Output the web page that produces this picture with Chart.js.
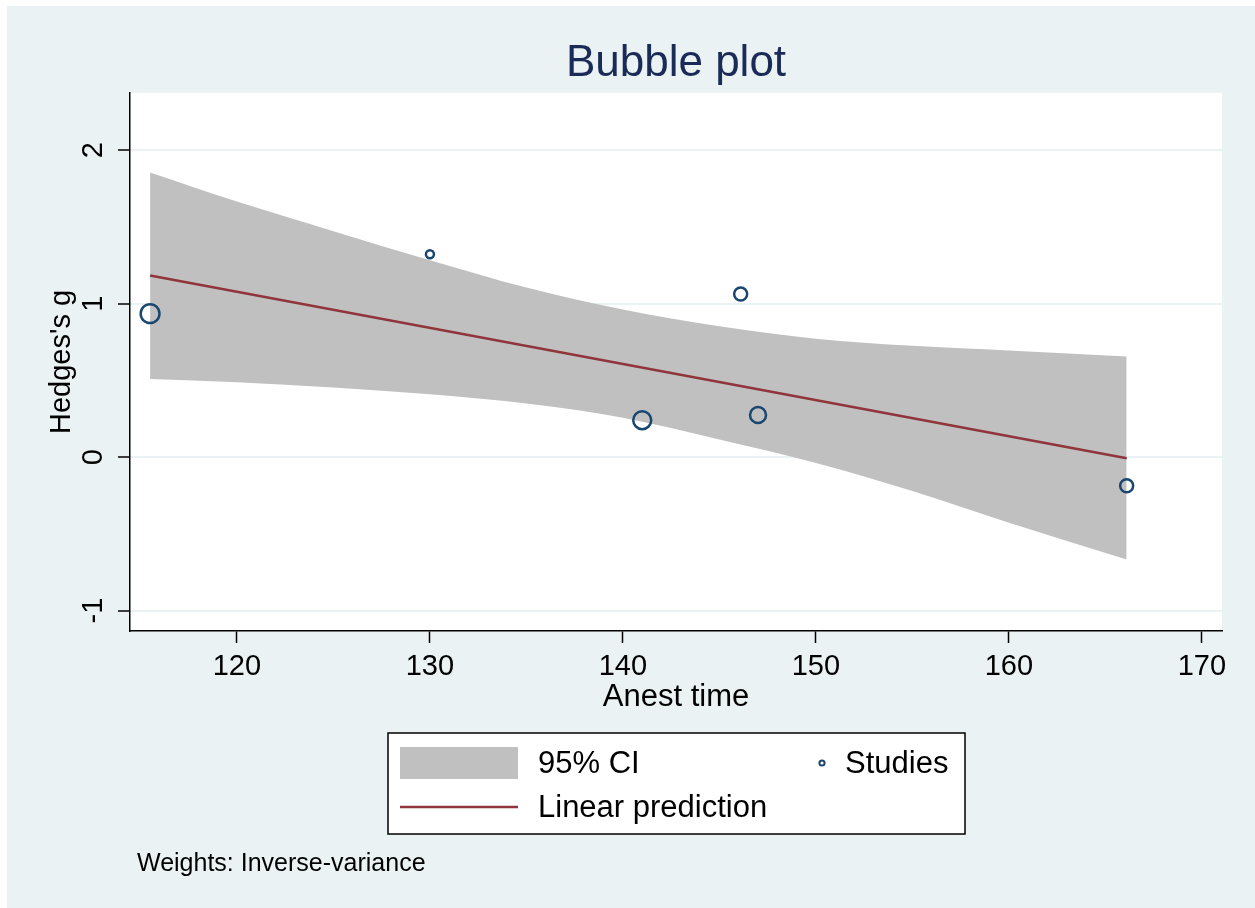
<!DOCTYPE html>
<html>
<head>
<meta charset="utf-8">
<title>Bubble plot</title>
<script src="https://cdn.jsdelivr.net/npm/chart.js@4.4.1/dist/chart.umd.min.js"></script>
<style>
  html, body { margin: 0; padding: 0; background: #fff; }
  #wrap { position: relative; width: 1255px; height: 908px; }
</style>
</head>
<body>
<div id="wrap"><canvas id="grafico" width="1255" height="908"></canvas></div>
<script>
/* studies (bubbles) */
const anestTime = [115.5, 130.0, 141.0, 146.1, 147.0, 166.1];
const hedgesG   = [0.935, 1.322, 0.241, 1.063, 0.274, -0.187];
const weightR   = [9.4, 4, 9, 6.5, 8, 6.5];

/* linear prediction */
const predX = [115.5, 166.1];
const predY = [1.183, -0.008];

/* 95% CI band */
const ciX     = [115.5, 120, 125, 130, 135, 140, 145, 150, 155, 160, 166.1];
const ciUpper = [1.855, 1.665, 1.472, 1.283, 1.105, 0.962, 0.852, 0.772, 0.725, 0.695, 0.655];
const ciLower = [0.509, 0.488, 0.454, 0.41, 0.35, 0.257, 0.115, -0.038, -0.221, -0.427, -0.667];

const xTicks = [120, 130, 140, 150, 160, 170];
const yTicks = [-1, 0, 1, 2];

const FONT = "'Liberation Sans', Arial, Helvetica, sans-serif";
const NAVY = "#1A476F";
const MAROON = "#90353B";
const GRAY = "#C0C0C0";
const BG = "#EAF2F3";

Chart.defaults.font.family = FONT;
Chart.defaults.color = "#000";

/* fundo estilo Stata */
const fundo = {
  id: "fundo",
  beforeDraw(chart) {
    const { ctx, chartArea: a } = chart;
    ctx.save();
    ctx.fillStyle = "#fff";
    ctx.fillRect(0, 0, chart.width, chart.height);
    ctx.fillStyle = BG;
    ctx.fillRect(7, 6, chart.width - 7, chart.height - 6);
    ctx.fillStyle = "#fff";
    ctx.fillRect(a.left, a.top, a.right - a.left, a.bottom - a.top);
    ctx.restore();
  }
};

/* legenda + nota */
const legenda = {
  id: "legenda",
  afterDraw(chart) {
    const ctx = chart.ctx;
    const ds = chart.data.datasets;
    ctx.save();
    ctx.fillStyle = "#fff";
    ctx.fillRect(388, 733, 577, 101);
    ctx.strokeStyle = "#000";
    ctx.lineWidth = 1.5;
    ctx.strokeRect(388, 733, 577, 101);

    ctx.font = "31px " + FONT;
    ctx.textBaseline = "middle";
    ctx.textAlign = "left";

    // 95% CI
    ctx.fillStyle = GRAY;
    ctx.fillRect(400, 747, 118, 32);
    ctx.fillStyle = "#000";
    ctx.fillText(ds[2].label, 538, 764);

    // Studies
    ctx.beginPath();
    ctx.arc(822, 763, 2.6, 0, Math.PI * 2);
    ctx.strokeStyle = NAVY;
    ctx.lineWidth = 2;
    ctx.stroke();
    ctx.fillText(ds[0].label, 845, 764);

    // Linear prediction
    ctx.beginPath();
    ctx.moveTo(400, 807);
    ctx.lineTo(518, 807);
    ctx.strokeStyle = MAROON;
    ctx.lineWidth = 2.5;
    ctx.stroke();
    ctx.fillText(ds[1].label, 538, 808);

    // nota
    ctx.font = "25px " + FONT;
    ctx.fillText("Weights: Inverse-variance", 137, 864);
    ctx.restore();
  }
};

const pts = (xs, ys) => xs.map((x, i) => ({ x: x, y: ys[i] }));

new Chart(document.getElementById("grafico"), {
  type: "bubble",
  data: {
    datasets: [
      {
        type: "bubble",
        label: "Studies",
        data: anestTime.map((x, i) => ({ x: x, y: hedgesG[i], r: weightR[i] })),
        borderColor: NAVY,
        backgroundColor: "rgba(0,0,0,0)",
        borderWidth: 2.5
      },
      {
        type: "line",
        label: "Linear prediction",
        data: pts(predX, predY),
        borderColor: MAROON,
        borderWidth: 2.5,
        pointRadius: 0,
        fill: false
      },
      {
        type: "line",
        label: "95% CI",
        data: pts(ciX, ciUpper),
        borderColor: "rgba(0,0,0,0)",
        borderWidth: 0,
        backgroundColor: GRAY,
        pointRadius: 0,
        cubicInterpolationMode: "monotone",
        fill: "+1"
      },
      {
        type: "line",
        label: "ci lower",
        data: pts(ciX, ciLower),
        borderColor: "rgba(0,0,0,0)",
        borderWidth: 0,
        pointRadius: 0,
        cubicInterpolationMode: "monotone",
        fill: false
      }
    ]
  },
  options: {
    responsive: false,
    animation: false,
    layout: { padding: { left: 0, top: 0, right: 33, bottom: 192 } },
    plugins: {
      legend: { display: false },
      tooltip: { enabled: false },
      title: {
        display: true,
        text: "Bubble plot",
        fullSize: false,
        color: "#1A2B57",
        font: { size: 44, weight: "normal" },
        padding: { top: 37, bottom: 3 }
      }
    },
    scales: {
      x: {
        type: "linear",
        min: 114.46,
        max: 171.04,
        afterBuildTicks: s => { s.ticks = xTicks.map(v => ({ value: v })); },
        afterFit: s => { s.height = 85; },
        grid: { drawOnChartArea: false, drawTicks: true, tickLength: 12, tickColor: "#000", tickWidth: 1.5 },
        border: { color: "#000", width: 1.5 },
        ticks: { color: "#000", font: { size: 29 }, padding: 7, maxRotation: 0, autoSkip: false },
        title: { display: true, text: "Anest time", color: "#000", font: { size: 31 }, padding: { top: 0, bottom: 0 } }
      },
      y: {
        type: "linear",
        min: -1.133,
        max: 2.374,
        afterBuildTicks: s => { s.ticks = yTicks.map(v => ({ value: v })); },
        afterFit: s => { s.width = 130; },
        grid: { color: BG, lineWidth: 2, drawTicks: true, tickLength: 12, tickColor: "#000", tickWidth: 1.5 },
        border: { color: "#000", width: 1.5 },
        ticks: { color: "#000", font: { size: 29 }, padding: 11.6, minRotation: 90, maxRotation: 90, crossAlign: "center", autoSkip: false },
        title: { display: true, text: "Hedges's g", color: "#000", font: { size: 29 }, padding: { top: 44.6, bottom: 0 } }
      }
    }
  },
  plugins: [fundo, legenda]
});
</script>
</body>
</html>
